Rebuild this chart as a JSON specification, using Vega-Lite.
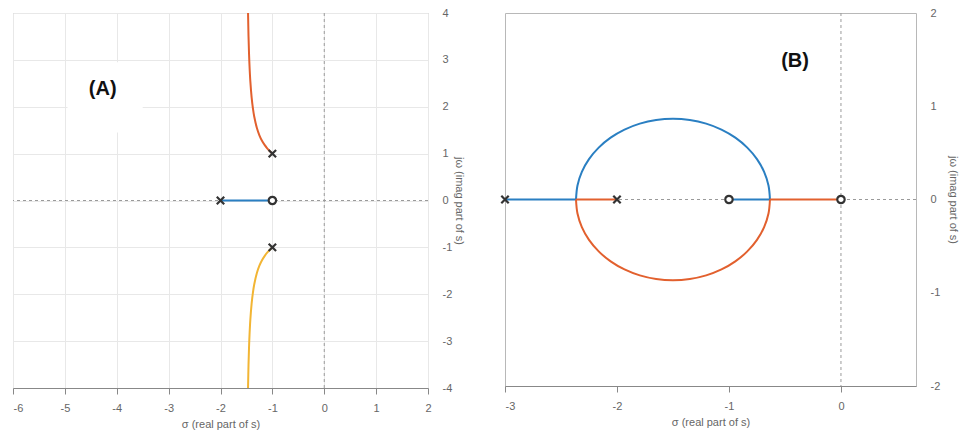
{
  "$schema": "https://vega.github.io/schema/vega-lite/v6.json",
  "background": "white",
  "padding": {"left": 12, "top": 6, "right": 0, "bottom": 0},
  "spacing": 77,
  "bounds": "flush",
  "config": {
    "font": "Liberation Sans",
    "view": {"stroke": "#b8b8b8", "strokeWidth": 1},
    "axis": {"gridColor": "#e8e8e8", "gridWidth": 1, "labelColor": "#666666", "labelFontSize": 11, "titleColor": "#666666", "titleFontSize": 11, "titleFontWeight": "normal", "labelExpr": "'' + datum.value"},
    "axisX": {"domainColor": "#888888", "tickColor": "#888888", "tickSize": 6, "labelPadding": 8, "titlePadding": 5, "labelFlush": false},
    "axisY": {"domain": false, "ticks": false, "labelPadding": 14, "titlePadding": 2, "labelFlush": false}
  },
  "datasets": {
    "boxA": [{"x": -4.95, "x2": -3.5, "y": 1.45, "y2": 2.95}],
    "linesA": [
      {"b": "b1", "seg": "A1", "i": 0, "x": -2, "y": 0},
      {"b": "b1", "seg": "A1", "i": 1, "x": -1, "y": 0},
      {"b": "b2", "seg": "A2", "i": 0, "x": -1, "y": 1},
      {"b": "b2", "seg": "A2", "i": 1, "x": -1.025, "y": 1.0257},
      {"b": "b2", "seg": "A2", "i": 2, "x": -1.05, "y": 1.0529},
      {"b": "b2", "seg": "A2", "i": 3, "x": -1.1, "y": 1.1136},
      {"b": "b2", "seg": "A2", "i": 4, "x": -1.15, "y": 1.1858},
      {"b": "b2", "seg": "A2", "i": 5, "x": -1.2, "y": 1.2754},
      {"b": "b2", "seg": "A2", "i": 6, "x": -1.25, "y": 1.3919},
      {"b": "b2", "seg": "A2", "i": 7, "x": -1.3, "y": 1.5524},
      {"b": "b2", "seg": "A2", "i": 8, "x": -1.35, "y": 1.7919},
      {"b": "b2", "seg": "A2", "i": 9, "x": -1.375, "y": 1.9645},
      {"b": "b2", "seg": "A2", "i": 10, "x": -1.4, "y": 2.2},
      {"b": "b2", "seg": "A2", "i": 11, "x": -1.425, "y": 2.5468},
      {"b": "b2", "seg": "A2", "i": 12, "x": -1.44, "y": 2.853},
      {"b": "b2", "seg": "A2", "i": 13, "x": -1.45, "y": 3.1301},
      {"b": "b2", "seg": "A2", "i": 14, "x": -1.46, "y": 3.5055},
      {"b": "b2", "seg": "A2", "i": 15, "x": -1.469, "y": 4.0},
      {"b": "b3", "seg": "A3", "i": 0, "x": -1, "y": -1},
      {"b": "b3", "seg": "A3", "i": 1, "x": -1.025, "y": -1.0257},
      {"b": "b3", "seg": "A3", "i": 2, "x": -1.05, "y": -1.0529},
      {"b": "b3", "seg": "A3", "i": 3, "x": -1.1, "y": -1.1136},
      {"b": "b3", "seg": "A3", "i": 4, "x": -1.15, "y": -1.1858},
      {"b": "b3", "seg": "A3", "i": 5, "x": -1.2, "y": -1.2754},
      {"b": "b3", "seg": "A3", "i": 6, "x": -1.25, "y": -1.3919},
      {"b": "b3", "seg": "A3", "i": 7, "x": -1.3, "y": -1.5524},
      {"b": "b3", "seg": "A3", "i": 8, "x": -1.35, "y": -1.7919},
      {"b": "b3", "seg": "A3", "i": 9, "x": -1.375, "y": -1.9645},
      {"b": "b3", "seg": "A3", "i": 10, "x": -1.4, "y": -2.2},
      {"b": "b3", "seg": "A3", "i": 11, "x": -1.425, "y": -2.5468},
      {"b": "b3", "seg": "A3", "i": 12, "x": -1.44, "y": -2.853},
      {"b": "b3", "seg": "A3", "i": 13, "x": -1.45, "y": -3.1301},
      {"b": "b3", "seg": "A3", "i": 14, "x": -1.46, "y": -3.5055},
      {"b": "b3", "seg": "A3", "i": 15, "x": -1.469, "y": -4.0}
    ],
    "rootsA": [
      {"kind": "pole", "x": -1, "y": 1},
      {"kind": "pole", "x": -1, "y": -1},
      {"kind": "pole", "x": -2, "y": 0},
      {"kind": "zero", "x": -1, "y": 0}
    ],
    "lblA": [{"x": -4.27, "y": 2.38, "t": "(A)"}],
    "linesB": [
      {"b": "b1", "seg": "B1a", "i": 0, "x": -3, "y": 0},
      {"b": "b1", "seg": "B1a", "i": 1, "x": -2.366, "y": 0},
      {"b": "b1", "seg": "B1b", "i": 0, "x": -2.366, "y": 0},
      {"b": "b1", "seg": "B1b", "i": 1, "x": -2.3528, "y": 0.1504},
      {"b": "b1", "seg": "B1b", "i": 2, "x": -2.3138, "y": 0.2962},
      {"b": "b1", "seg": "B1b", "i": 3, "x": -2.25, "y": 0.433},
      {"b": "b1", "seg": "B1b", "i": 4, "x": -2.1634, "y": 0.5567},
      {"b": "b1", "seg": "B1b", "i": 5, "x": -2.0567, "y": 0.6634},
      {"b": "b1", "seg": "B1b", "i": 6, "x": -1.933, "y": 0.75},
      {"b": "b1", "seg": "B1b", "i": 7, "x": -1.7962, "y": 0.8138},
      {"b": "b1", "seg": "B1b", "i": 8, "x": -1.6504, "y": 0.8528},
      {"b": "b1", "seg": "B1b", "i": 9, "x": -1.5, "y": 0.866},
      {"b": "b1", "seg": "B1b", "i": 10, "x": -1.3496, "y": 0.8528},
      {"b": "b1", "seg": "B1b", "i": 11, "x": -1.2038, "y": 0.8138},
      {"b": "b1", "seg": "B1b", "i": 12, "x": -1.067, "y": 0.75},
      {"b": "b1", "seg": "B1b", "i": 13, "x": -0.9433, "y": 0.6634},
      {"b": "b1", "seg": "B1b", "i": 14, "x": -0.8366, "y": 0.5567},
      {"b": "b1", "seg": "B1b", "i": 15, "x": -0.75, "y": 0.433},
      {"b": "b1", "seg": "B1b", "i": 16, "x": -0.6862, "y": 0.2962},
      {"b": "b1", "seg": "B1b", "i": 17, "x": -0.6472, "y": 0.1504},
      {"b": "b1", "seg": "B1b", "i": 18, "x": -0.634, "y": 0},
      {"b": "b1", "seg": "B1c", "i": 0, "x": -1, "y": 0},
      {"b": "b1", "seg": "B1c", "i": 1, "x": -0.634, "y": 0},
      {"b": "b2", "seg": "B2a", "i": 0, "x": -2.366, "y": 0},
      {"b": "b2", "seg": "B2a", "i": 1, "x": -2, "y": 0},
      {"b": "b2", "seg": "B2b", "i": 0, "x": -2.366, "y": 0},
      {"b": "b2", "seg": "B2b", "i": 1, "x": -2.3528, "y": -0.1504},
      {"b": "b2", "seg": "B2b", "i": 2, "x": -2.3138, "y": -0.2962},
      {"b": "b2", "seg": "B2b", "i": 3, "x": -2.25, "y": -0.433},
      {"b": "b2", "seg": "B2b", "i": 4, "x": -2.1634, "y": -0.5567},
      {"b": "b2", "seg": "B2b", "i": 5, "x": -2.0567, "y": -0.6634},
      {"b": "b2", "seg": "B2b", "i": 6, "x": -1.933, "y": -0.75},
      {"b": "b2", "seg": "B2b", "i": 7, "x": -1.7962, "y": -0.8138},
      {"b": "b2", "seg": "B2b", "i": 8, "x": -1.6504, "y": -0.8528},
      {"b": "b2", "seg": "B2b", "i": 9, "x": -1.5, "y": -0.866},
      {"b": "b2", "seg": "B2b", "i": 10, "x": -1.3496, "y": -0.8528},
      {"b": "b2", "seg": "B2b", "i": 11, "x": -1.2038, "y": -0.8138},
      {"b": "b2", "seg": "B2b", "i": 12, "x": -1.067, "y": -0.75},
      {"b": "b2", "seg": "B2b", "i": 13, "x": -0.9433, "y": -0.6634},
      {"b": "b2", "seg": "B2b", "i": 14, "x": -0.8366, "y": -0.5567},
      {"b": "b2", "seg": "B2b", "i": 15, "x": -0.75, "y": -0.433},
      {"b": "b2", "seg": "B2b", "i": 16, "x": -0.6862, "y": -0.2962},
      {"b": "b2", "seg": "B2b", "i": 17, "x": -0.6472, "y": -0.1504},
      {"b": "b2", "seg": "B2b", "i": 18, "x": -0.634, "y": 0},
      {"b": "b2", "seg": "B2c", "i": 0, "x": -0.634, "y": 0},
      {"b": "b2", "seg": "B2c", "i": 1, "x": 0, "y": 0}
    ],
    "rootsB": [
      {"kind": "pole", "x": -3, "y": 0},
      {"kind": "pole", "x": -2, "y": 0},
      {"kind": "zero", "x": -1, "y": 0},
      {"kind": "zero", "x": 0, "y": 0}
    ],
    "lblB": [{"x": -0.41, "y": 1.48, "t": "(B)"}]
  },
  "hconcat": [
    {
      "width": 415,
      "height": 375,
      "layer": [
        {
          "data": {"name": "boxA"},
          "mark": {"type": "rect", "fill": "white"},
          "encoding": {
            "x": {"field": "x", "type": "quantitative", "title": "σ (real part of s)", "scale": {"domain": [-6, 2], "nice": false, "zero": false}, "axis": {"values": [-6, -5, -4, -3, -2, -1, 0, 1, 2], "labelAlign": {"expr": "datum.value == -6 ? 'left' : 'center'"}}},
            "x2": {"field": "x2"},
            "y": {"field": "y", "type": "quantitative", "title": "jω (imag part of s)", "scale": {"domain": [-4, 4], "nice": false, "zero": false}, "axis": {"orient": "right", "values": [-4, -3, -2, -1, 0, 1, 2, 3, 4]}},
            "y2": {"field": "y2"}
          }
        },
        {
          "data": {"values": [{}]},
          "mark": {"type": "rule", "stroke": "#9a9a9a", "strokeDash": [3, 3], "strokeWidth": 1},
          "encoding": {"y": {"datum": 0, "type": "quantitative"}}
        },
        {
          "data": {"values": [{}]},
          "mark": {"type": "rule", "stroke": "#9a9a9a", "strokeDash": [3, 3], "strokeWidth": 1},
          "encoding": {"x": {"datum": 0, "type": "quantitative"}}
        },
        {
          "data": {"name": "linesA"},
          "mark": {"type": "line", "interpolate": "catmull-rom", "strokeWidth": 2},
          "encoding": {
            "x": {"field": "x", "type": "quantitative", "title": "σ (real part of s)"},
            "y": {"field": "y", "type": "quantitative", "title": "jω (imag part of s)"},
            "color": {"field": "b", "type": "nominal", "scale": {"domain": ["b1", "b2", "b3"], "range": ["#2a7fc2", "#e2602e", "#f2b534"]}, "legend": null},
            "detail": {"field": "seg"},
            "order": {"field": "i", "type": "quantitative"}
          }
        },
        {
          "data": {"name": "rootsA"},
          "mark": {"type": "point", "filled": true, "fill": "white", "stroke": "#333333", "strokeWidth": 2.2, "size": 55, "opacity": 1},
          "encoding": {
            "x": {"field": "x", "type": "quantitative", "title": "σ (real part of s)"},
            "y": {"field": "y", "type": "quantitative", "title": "jω (imag part of s)"},
            "shape": {"field": "kind", "type": "nominal", "scale": {"domain": ["pole", "zero"], "range": ["M-1,-1L1,1M-1,1L1,-1", "circle"]}, "legend": null}
          }
        },
        {
          "data": {"name": "lblA"},
          "mark": {"type": "text", "fontSize": 20, "fontWeight": "bold", "color": "#111111"},
          "encoding": {
            "x": {"field": "x", "type": "quantitative", "title": "σ (real part of s)"},
            "y": {"field": "y", "type": "quantitative", "title": "jω (imag part of s)"},
            "text": {"field": "t"}
          }
        }
      ]
    },
    {
      "width": 411,
      "height": 373,
      "layer": [
        {
          "data": {"values": [{}]},
          "mark": {"type": "rule", "stroke": "#9a9a9a", "strokeDash": [3, 3], "strokeWidth": 1},
          "encoding": {
            "x": {"datum": 0, "type": "quantitative", "title": "σ (real part of s)", "scale": {"domain": [-3, 0.67], "nice": false, "zero": false}, "axis": {"values": [-3, -2, -1, 0], "labelAlign": {"expr": "datum.value == -3 ? 'left' : 'center'"}}}
          }
        },
        {
          "data": {"values": [{}]},
          "mark": {"type": "rule", "stroke": "#9a9a9a", "strokeDash": [3, 3], "strokeWidth": 1},
          "encoding": {
            "y": {"datum": 0, "type": "quantitative", "title": "jω (imag part of s)", "scale": {"domain": [-2, 2], "nice": false, "zero": false}, "axis": {"orient": "right", "values": [-2, -1, 0, 1, 2], "titlePadding": 8}}
          }
        },
        {
          "data": {"name": "linesB"},
          "mark": {"type": "line", "interpolate": "catmull-rom", "strokeWidth": 2},
          "encoding": {
            "x": {"field": "x", "type": "quantitative", "title": "σ (real part of s)"},
            "y": {"field": "y", "type": "quantitative", "title": "jω (imag part of s)"},
            "color": {"field": "b", "type": "nominal", "scale": {"domain": ["b1", "b2", "b3"], "range": ["#2a7fc2", "#e2602e", "#f2b534"]}, "legend": null},
            "detail": {"field": "seg"},
            "order": {"field": "i", "type": "quantitative"}
          }
        },
        {
          "data": {"name": "rootsB"},
          "mark": {"type": "point", "filled": true, "fill": "white", "stroke": "#333333", "strokeWidth": 2.2, "size": 55, "opacity": 1},
          "encoding": {
            "x": {"field": "x", "type": "quantitative", "title": "σ (real part of s)"},
            "y": {"field": "y", "type": "quantitative", "title": "jω (imag part of s)"},
            "shape": {"field": "kind", "type": "nominal", "scale": {"domain": ["pole", "zero"], "range": ["M-1,-1L1,1M-1,1L1,-1", "circle"]}, "legend": null}
          }
        },
        {
          "data": {"name": "lblB"},
          "mark": {"type": "text", "fontSize": 20, "fontWeight": "bold", "color": "#111111"},
          "encoding": {
            "x": {"field": "x", "type": "quantitative", "title": "σ (real part of s)"},
            "y": {"field": "y", "type": "quantitative", "title": "jω (imag part of s)"},
            "text": {"field": "t"}
          }
        }
      ]
    }
  ],
  "resolve": {"scale": {"x": "independent", "y": "independent", "color": "shared", "shape": "shared"}}
}
